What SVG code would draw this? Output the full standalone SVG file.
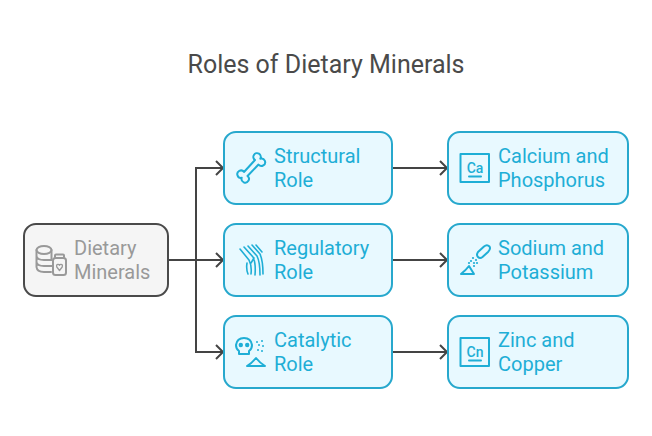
<svg xmlns="http://www.w3.org/2000/svg" width="652" height="436" viewBox="0 0 652 436">
<style>
text{font-family:Roboto,"Liberation Sans",sans-serif}
.t{font-size:25px;fill:#4a4a4a}
.l{font-size:20px;fill:#1eaed6}
.g{font-size:20px;fill:#999}
.b{fill:#e8f9ff;stroke:#27a8cd;stroke-width:2}
.c{fill:none;stroke:#444;stroke-width:2}
.i{fill:none;stroke:#1eaed6;stroke-width:2;stroke-linecap:round;stroke-linejoin:round}
.j{fill:none;stroke:#1eaed6;stroke-width:1.600;stroke-linecap:round;stroke-linejoin:round}
.m{fill:none;stroke:#999;stroke-width:2;stroke-linecap:round;stroke-linejoin:round}
.s{font-size:14px;font-weight:500;fill:#1eaed6;text-anchor:middle}
</style>
<defs><marker id="a" markerUnits="userSpaceOnUse" markerWidth="12" markerHeight="16" refX="10" refY="8" orient="auto"><path d="M3 1L10 8L3 15" fill="none" stroke="#444" stroke-width="2"/></marker></defs>
<text class="t" x="326" y="73" text-anchor="middle">Roles of Dietary Minerals</text>
<g id="connectors">
<path class="c" d="M168 260H223" marker-end="url(#a)"/>
<path class="c" d="M196 260V168H223" marker-end="url(#a)"/>
<path class="c" d="M196 260V352H223" marker-end="url(#a)"/>
<path class="c" d="M392 168H447" marker-end="url(#a)"/>
<path class="c" d="M392 260H447" marker-end="url(#a)"/>
<path class="c" d="M392 352H447" marker-end="url(#a)"/>
</g>
<g id="dietary">
<rect x="24" y="224" width="144" height="72" rx="12" fill="#f5f5f5" stroke="#4a4a4a" stroke-width="2"/>
<g class="m"><ellipse cx="44" cy="250" rx="7.500" ry="4"/><path d="M36.500 250V267Q37 272 44 272H51M36.500 256Q37 260 44 260H51.500V250M36.500 262Q37 266 44 266H52"/><rect x="53" y="258" width="13" height="17" rx="2.500"/><rect x="55" y="254.500" width="9" height="3.500" rx="1"/><path stroke-width="1.300" d="M59.500 270.500L56.800 267Q56 264.500 58 264.300Q59 264.200 59.500 265.300Q60 264.200 61 264.300Q63 264.500 62.200 267Z"/></g>
<text class="g" x="74" y="255">Dietary</text><text class="g" x="74" y="279">Minerals</text>
</g>
<g id="structural">
<rect class="b" x="224" y="132" width="168" height="72" rx="12"/>
<path class="i" d="M255 160A3.700 3.700 0 1 1 260.300 158.700A3.700 3.700 0 1 1 258.500 164.500L247.500 176A3.700 3.700 0 1 1 241.700 177.800A3.700 3.700 0 1 1 244 172Z"/>
<text class="l" x="274" y="163">Structural</text><text class="l" x="274" y="187">Role</text>
</g>
<g id="regulatory">
<rect class="b" x="224" y="224" width="168" height="72" rx="12"/>
<g class="j"><path d="M240 249L249 260Q252 266 251 274M244 247L253 257Q256 263 255 275M248 246L257 256Q260 262 260 275M252 245L260 254Q263 261 263 274M256 245L262 252M247 263Q246 269 248 274M251 263L254 258"/></g>
<text class="l" x="274" y="255">Regulatory</text><text class="l" x="274" y="279">Role</text>
</g>
<g id="catalytic">
<rect class="b" x="224" y="316" width="168" height="72" rx="12"/>
<path class="i" d="M239 351Q236 349 236 345Q237 338 244 338Q251 338 252 345Q252 349 249 351V354H239Z"/>
<circle cx="240.800" cy="345" r="2.200" fill="#1eaed6"/><circle cx="247.200" cy="345" r="2.200" fill="#1eaed6"/>
<path class="i" d="M247 366Q252 363 256 358Q260 363 265 366Z"/>
<g fill="#1eaed6"><circle cx="257" cy="342" r="1"/><circle cx="262" cy="341" r="1"/><circle cx="259" cy="345" r="1"/><circle cx="263" cy="346" r="1"/><circle cx="258" cy="350" r="1"/><circle cx="262" cy="351" r="1"/></g>
<text class="l" x="274" y="347">Catalytic</text><text class="l" x="274" y="371">Role</text>
</g>
<g id="calcium">
<rect class="b" x="448" y="132" width="180" height="72" rx="12"/>
<rect class="i" x="460.500" y="154" width="28.500" height="28"/>
<text class="s" x="475" y="173">Ca</text><path class="i" d="M469 176.500H481"/>
<text class="l" x="498" y="163">Calcium and</text><text class="l" x="498" y="187">Phosphorus</text>
</g>
<g id="sodium">
<rect class="b" x="448" y="224" width="180" height="72" rx="12"/>
<path class="i" d="M478 252L484 246.500Q487 244 489.500 246.500Q491 249 488 252L482.500 257Q480 259 478 257Q476 255 478 252Z"/>
<path class="i" d="M461 274Q466 270 469 266L474 274Z"/>
<g fill="#1eaed6"><circle cx="473" cy="258" r="1.100"/><circle cx="476" cy="260" r="1.100"/><circle cx="471" cy="261" r="1.100"/><circle cx="474" cy="263" r="1.100"/><circle cx="477" cy="263" r="1.100"/><circle cx="474" cy="266" r="1.100"/><circle cx="469" cy="263" r="1.100"/></g>
<text class="l" x="498" y="255">Sodium and</text><text class="l" x="498" y="279">Potassium</text>
</g>
<g id="zinc">
<rect class="b" x="448" y="316" width="180" height="72" rx="12"/>
<rect class="i" x="460.500" y="338" width="28.500" height="28"/>
<text class="s" x="475" y="357">Cn</text><path class="i" d="M469 360.500H481"/>
<text class="l" x="498" y="347">Zinc and</text><text class="l" x="498" y="371">Copper</text>
</g>
</svg>
